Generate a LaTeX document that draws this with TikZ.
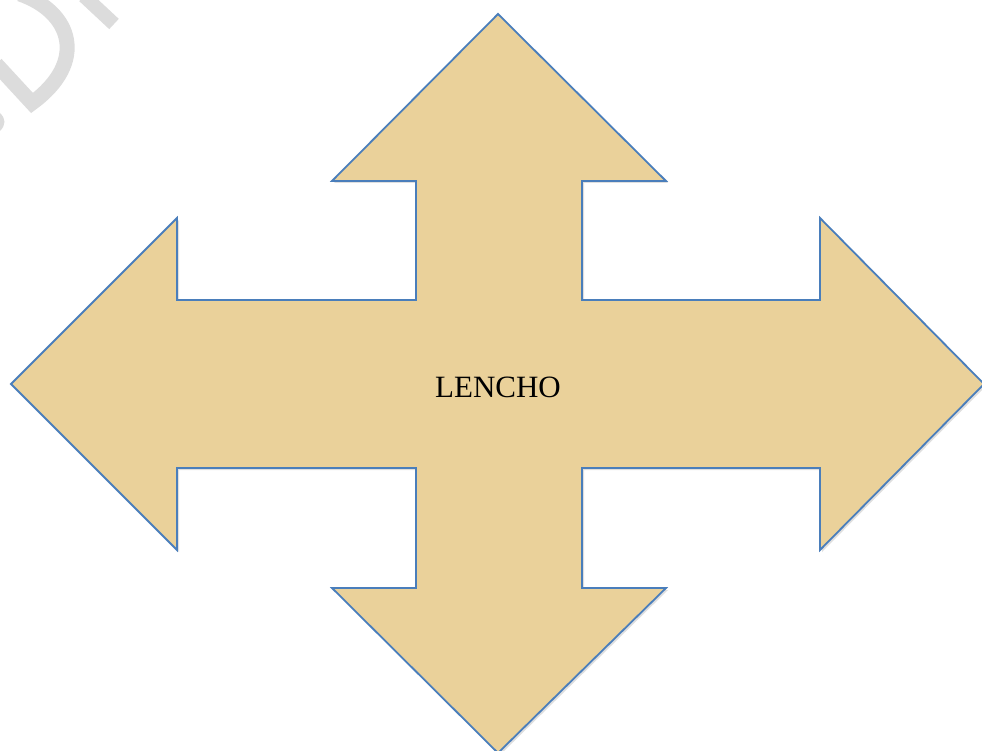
\documentclass[tikz,border=0pt]{standalone}
\usepackage{fontspec}
\setmainfont{Liberation Serif}
\usetikzlibrary{shadows}
\definecolor{papyrus}{HTML}{EAD19A}
\definecolor{edgeblue}{HTML}{4A7EBB}
\definecolor{markgray}{HTML}{DCDCDC}

\begin{document}
\begin{tikzpicture}[x=1pt, y=-1pt,
    crossarrow/.style={fill=papyrus, draw=edgeblue, line width=1.8pt, line join=miter,
      drop shadow={opacity=0.25, shadow xshift=2pt, shadow yshift=-2pt}},
    watermark/.style={draw=markgray, line width=15pt}]
  \useasboundingbox (0,0) rectangle (982,751);
  \begin{scope}
    \clip (0,0) rectangle (982,751);
    % faint watermark fragment in the corner
    \draw[watermark] (-4,64) -- (32,103) .. controls (88,62) and (72,12) .. (20,-6);
    \draw[watermark, line width=14pt] (84,-4) -- (114,24);
    \fill[markgray] (0,113) .. controls (6,119) and (6,125) .. (0,131) -- cycle;
    % four-way arrow
    \draw[crossarrow] (498,14) -- (666,181) -- (582,181) -- (582,300)
      -- (820,300) -- (820,218) -- (984,384) -- (820,550) -- (820,468)
      -- (582,468) -- (582,588) -- (666,588) -- (498,753) -- (332,588)
      -- (416,588) -- (416,468) -- (177,468) -- (177,550) -- (11,384)
      -- (177,218) -- (177,300) -- (416,300) -- (416,181) -- (332,181) -- cycle;
  \end{scope}
  \node[font=\fontsize{31}{34}\selectfont] (lencho) at (498,387) {LENCHO};
\end{tikzpicture}
\end{document}
